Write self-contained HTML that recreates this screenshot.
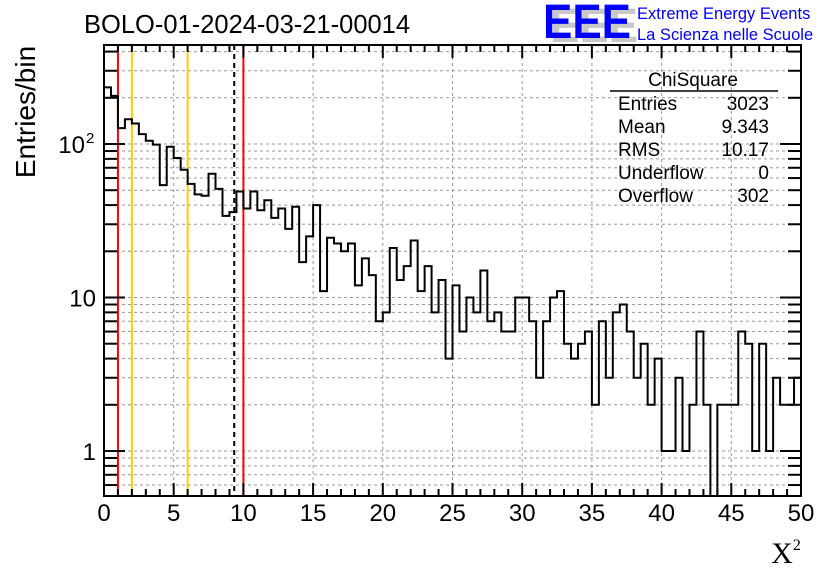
<!DOCTYPE html>
<html><head><meta charset="utf-8"><style>
body{margin:0;background:#fff;}
svg{display:block;font-family:"Liberation Sans",sans-serif;}
</style></head><body>
<svg id="chart" width="836" height="572">
<rect width="836" height="572" fill="#fff"/>
<text x="84" y="33" font-size="25.5">BOLO-01-2024-03-21-00014</text>
<g>
<text x="550" y="42" font-size="48" font-weight="bold" fill="#c8c8c8" textLength="88" lengthAdjust="spacingAndGlyphs">EEE</text>
<text x="543" y="38" font-size="48" font-weight="bold" fill="#0000ff" textLength="88" lengthAdjust="spacingAndGlyphs">EEE</text>
<text x="637" y="19" font-size="16.5" fill="#0000ff">Extreme Energy Events</text>
<text x="637" y="40" font-size="16.5" fill="#0000ff">La Scienza nelle Scuole</text>
</g>
<g id="grid"></g><g id="marks"></g><g id="axes"></g>
<text x="35" y="112" font-size="28" transform="rotate(-90 35 112)" text-anchor="middle">Entries/bin</text>
<text x="786" y="563" font-size="30" font-family="Liberation Serif,serif" text-anchor="middle">X<tspan font-size="16" dy="-13">2</tspan></text>
<g font-size="19">
<text x="693" y="86" text-anchor="middle">ChiSquare</text>
<line x1="610" y1="91" x2="778" y2="91" stroke="#000" stroke-width="1.5"/>
<text x="618" y="110">Entries</text><text x="769" y="110" text-anchor="end">3023</text>
<text x="618" y="133">Mean</text><text x="769" y="133" text-anchor="end">9.343</text>
<text x="618" y="156">RMS</text><text x="769" y="156" text-anchor="end">10.17</text>
<text x="618" y="179">Underflow</text><text x="769" y="179" text-anchor="end">0</text>
<text x="618" y="202">Overflow</text><text x="769" y="202" text-anchor="end">302</text>
</g>
</svg>
<script>
const counts=[234,206,127,145,136,116,105,99,54,96,81,68,55,47,46,64,51,34,36,49,38,49,37,43,33,38,28,39,17,25,40,11,24.5,22.5,20,22.5,12,18,14,7,8,21,13,16,23.5,11,16,8,13,4,12,6,10,8,15,7,8,6,6,10,10,7,3,7,10,11,5,4,5,6,2,7,3,8,9,6,3,5,2,4,1,1,3,1,2,6,2,0,2,2,2,6,5,1,5,1,3,2,2,3];
const xTicks=[0,5,10,15,20,25,30,35,40,45,50];
const yMajor=[1,10,100];
const yLabels=["1","10","10"];
const vLines=[{x:1,c:"#ff0000",d:""},{x:2,c:"#ffcc00",d:""},{x:6,c:"#ffcc00",d:""},{x:9.343,c:"#000",d:"5,4"},{x:10,c:"#ff0000",d:""}];
const X0=104,X1=801,Y0=45,Y1=496;
const xs=v=>X0+(v/50)*(X1-X0);
const ys=v=>451-Math.log10(v)*153.5;
const NS="http://www.w3.org/2000/svg";
function mk(tag,attrs,parent){const e=document.createElementNS(NS,tag);for(const k in attrs)e.setAttribute(k,attrs[k]);parent.appendChild(e);return e;}
const grid=document.getElementById('grid'),marks=document.getElementById('marks'),axes=document.getElementById('axes');
for(const t of xTicks){if(t===0||t===50)continue;const l=mk('line',{x1:xs(t),x2:xs(t),y1:Y0,y2:Y1,stroke:'#999','stroke-dasharray':'3,3'},grid);

}
const yminor=[];
for(let d=0.1;d<=100;d*=10){for(let m=1;m<=9;m++){const v=Math.round(d*m*100)/100;const y=ys(v);if(y>Y0&&y<Y1)yminor.push(v);}}
for(const v of yminor){const y=ys(v);const l=mk('line',{x1:X0,x2:X1,y1:y,y2:y,stroke:'#999','stroke-dasharray':'3,3'},grid);

}
for(const r of vLines){const l=mk('line',{x1:xs(r.x),x2:xs(r.x),y1:Y0,y2:Y1,stroke:r.c,'stroke-width':2,'stroke-dasharray':r.d},marks);

}
const bw=0.5;let d='';
counts.forEach((c,i)=>{const y=c>0?Math.min(ys(c),Y1):Y1;const xa=xs(i*bw),xb=xs((i+1)*bw);d+=(i===0?'M'+xa+','+y:'L'+xa+','+y)+'L'+xb+','+y;});
const h=mk('path',{d:d,fill:'none',stroke:'#000','stroke-width':2},marks);


const fr=mk('rect',{x:X0,y:Y0,width:X1-X0,height:Y1-Y0,fill:'none',stroke:'#000','stroke-width':2},axes);


for(let v=0;v<=50;v+=1){const maj=v%5===0;const L=maj?13:7;const x=xs(v);
mk('line',{x1:x,x2:x,y1:Y1,y2:Y1-L,stroke:'#000','stroke-width':2},axes);
mk('line',{x1:x,x2:x,y1:Y0,y2:Y0+L,stroke:'#000','stroke-width':2},axes);}
for(const t of xTicks){const tx=mk('text',{x:xs(t),y:521,'font-size':24,'text-anchor':'middle'},axes);tx.textContent=t;

}
for(const v of yminor){const y=ys(v);const maj=yMajor.includes(v);const L=maj?21:13;
mk('line',{x1:X0,x2:X0+L,y1:y,y2:y,stroke:'#000','stroke-width':2},axes);
mk('line',{x1:X1,x2:X1-L,y1:y,y2:y,stroke:'#000','stroke-width':2},axes);}
yMajor.forEach((v,i)=>{const big=v===100;const tx=mk('text',{x:big?85:96,y:ys(v)+9,'font-size':24,'text-anchor':'end'},axes);tx.textContent=yLabels[i];


if(big){const sp=mk('text',{x:86,y:ys(v)-1,'font-size':15},axes);sp.textContent='2';

}});
</script>
</body></html>
